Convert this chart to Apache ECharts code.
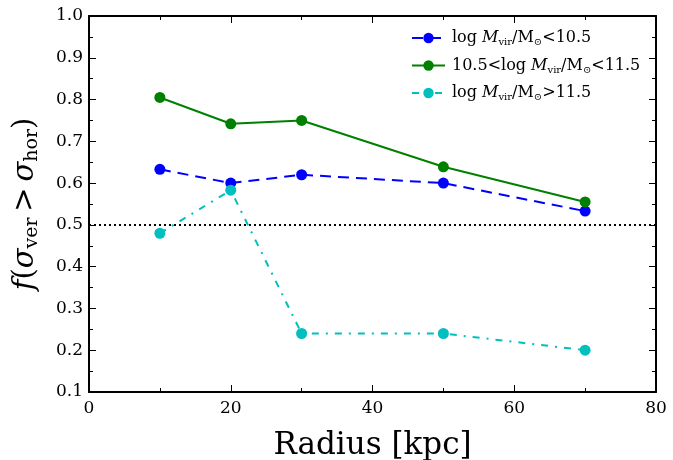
<!DOCTYPE html>
<html>
<head>
<meta charset="utf-8">
<script src="https://cdn.jsdelivr.net/npm/echarts@6/dist/echarts.min.js"></script>
<style>
  html, body { margin: 0; padding: 0; background: #fff; }
  #chart { width: 673px; height: 460px; }
</style>
</head>
<body>
<div id="chart"></div>
<script>
// Radii at which the fraction is measured (kpc)
const radius = [10, 20, 30, 50, 70];
// Fraction of galaxies with sigma_ver > sigma_hor, per halo-mass bin
const lowMass = [0.633, 0.600, 0.620, 0.600, 0.533];
const midMass = [0.805, 0.742, 0.750, 0.639, 0.555];
const highMass = [0.480, 0.583, 0.240, 0.240, 0.200];
// Reference level
const refLevel = 0.5;
const xRange = [0, 80];
const yRange = [0.1, 1.0];

const seriesNames = ['low', 'mid', 'high'];
const legendText = {
  low: '{g|}{t|log }{i|M}{s|vir}{t|/M}{s|\u2299}{t|<10.5}',
  mid: '{g|}{t|10.5<log }{i|M}{s|vir}{t|/M}{s|\u2299}{t|<11.5}',
  high: '{g|}{t|log }{i|M}{s|vir}{t|/M}{s|\u2299}{t|>11.5}'
};

const FONT = 'DejaVu Serif';
const pairs = (ys) => radius.map((x, i) => [x, ys[i]]);

const tickCommon = {
  axisLine: { show: true, onZero: false, lineStyle: { color: '#000', width: 2 } },
  axisTick: { show: true, inside: true, length: 7, lineStyle: { color: '#000', width: 1 } },
  minorTick: { show: true, splitNumber: 2, length: 4, lineStyle: { color: '#000', width: 1 } },
  splitLine: { show: false }
};

const chart = echarts.init(document.getElementById('chart'));
chart.setOption({
  animation: false,
  backgroundColor: '#fff',
  grid: { left: 89, right: 17, top: 16, bottom: 68, containLabel: false, outerBoundsMode: 'none' },
  legend: {
    data: seriesNames,
    orient: 'vertical',
    left: 411,
    top: 30,
    padding: 0,
    itemWidth: 33,
    itemHeight: 13,
    itemGap: 10,
    formatter: (n) => legendText[n],
    textStyle: {
      fontFamily: FONT,
      fontSize: 16,
      color: '#000',
      rich: {
        g: { width: 2 },
        t: { fontFamily: FONT, fontSize: 16, color: '#000' },
        i: { fontFamily: FONT, fontSize: 16, fontStyle: 'italic', color: '#000' },
        s: { fontFamily: FONT, fontSize: 10, color: '#000', padding: [9, 0, 0, 0] }
      }
    }
  },
  xAxis: [
    Object.assign({
      type: 'value', min: xRange[0], max: xRange[1], interval: 20,
      name: 'Radius [kpc]', nameLocation: 'middle', nameGap: 38,
      nameTextStyle: { fontFamily: FONT, fontSize: 31, color: '#000' },
      axisLabel: { fontFamily: FONT, fontSize: 17, color: '#000', margin: 8 }
    }, tickCommon),
    Object.assign({
      type: 'value', position: 'top', min: xRange[0], max: xRange[1], interval: 20,
      axisLabel: { show: false }
    }, tickCommon)
  ],
  yAxis: [
    Object.assign({
      type: 'value', min: yRange[0], max: yRange[1], interval: 0.1,
      name: '{f|f}{p|(}{g|\u03c3}{s|ver}{p|\u2009>\u2009}{g|\u03c3}{s|hor}{p|)}',
      nameLocation: 'middle', nameGap: 47, nameRotate: 90,
      nameTextStyle: {
        fontFamily: FONT, fontSize: 29, color: '#000',
        rich: {
          f: { fontFamily: FONT, fontSize: 29, fontStyle: 'italic', color: '#000' },
          p: { fontFamily: FONT, fontSize: 29, color: '#000' },
          g: { fontFamily: FONT, fontSize: 29, fontStyle: 'italic', color: '#000' },
          s: { fontFamily: FONT, fontSize: 19, color: '#000', padding: [14, 0, 0, 0] }
        }
      },
      axisLabel: {
        fontFamily: FONT, fontSize: 17, color: '#000', margin: 6,
        formatter: (v) => v.toFixed(1)
      }
    }, tickCommon),
    Object.assign({
      type: 'value', position: 'right', min: yRange[0], max: yRange[1], interval: 0.1,
      axisLabel: { show: false }
    }, tickCommon)
  ],
  series: [
    {
      name: 'ref', type: 'line', silent: true, symbol: 'none',
      data: [[xRange[0], refLevel], [xRange[1], refLevel]],
      lineStyle: { color: '#000', width: 2, type: [2, 3] },
      z: 1
    },
    {
      name: 'low', type: 'line', data: pairs(lowMass),
      symbol: 'circle', symbolSize: 11,
      itemStyle: { color: '#0000ff' },
      lineStyle: { color: '#0000ff', width: 2, type: [11, 7] },
      z: 3
    },
    {
      name: 'mid', type: 'line', data: pairs(midMass),
      symbol: 'circle', symbolSize: 11,
      itemStyle: { color: '#008000' },
      lineStyle: { color: '#008000', width: 2, type: 'solid' },
      z: 3
    },
    {
      name: 'high', type: 'line', data: pairs(highMass),
      symbol: 'circle', symbolSize: 11,
      itemStyle: { color: '#00bfbf' },
      lineStyle: { color: '#00bfbf', width: 2, type: [7, 7, 2, 7] },
      z: 4
    }
  ]
});
</script>
</body>
</html>
